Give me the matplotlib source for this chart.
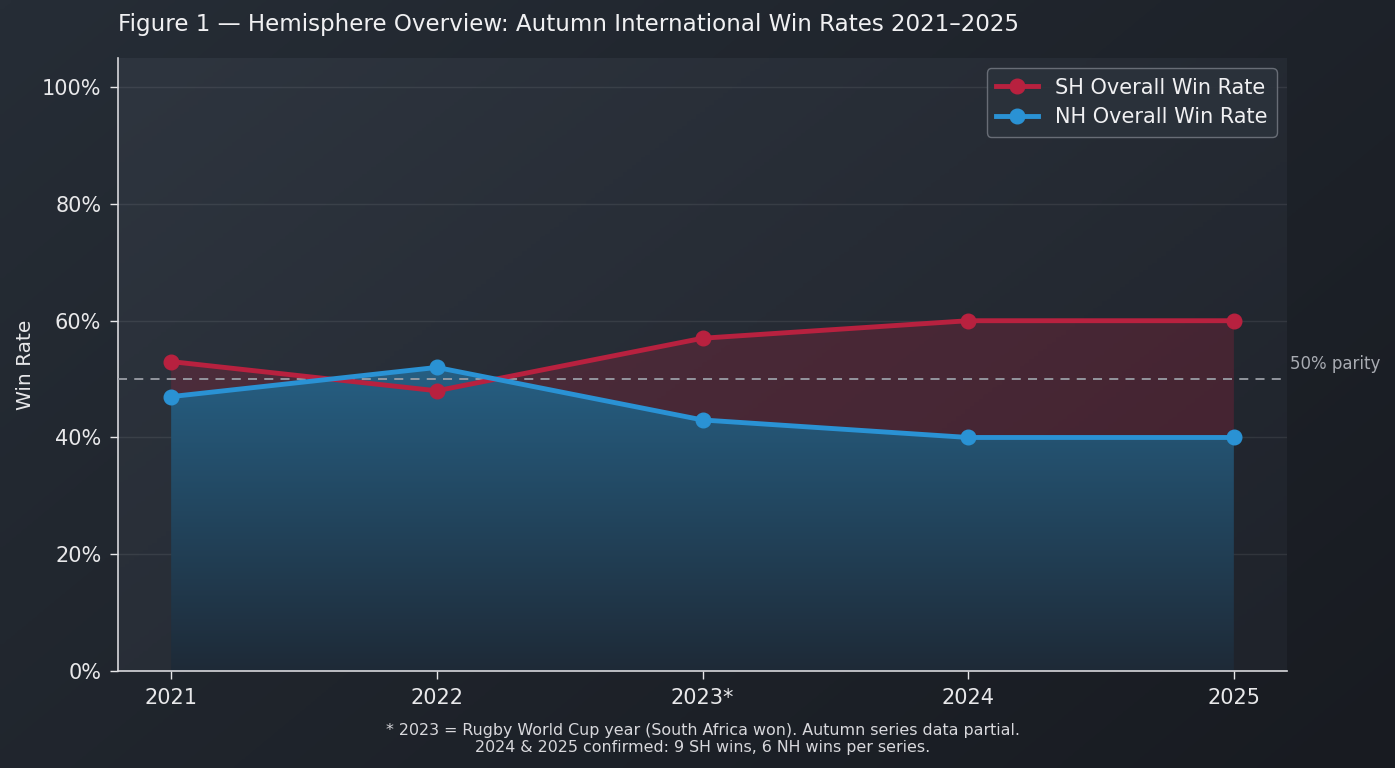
import numpy as np
import matplotlib
matplotlib.use("Agg")
import matplotlib.pyplot as plt
from matplotlib.colors import LinearSegmentedColormap
from matplotlib.patches import PathPatch
from matplotlib.path import Path

years = ["2021", "2022", "2023*", "2024", "2025"]
sh_rate = [53, 48, 57, 60, 60]
nh_rate = [47, 52, 43, 40, 40]
y_ticks = [0, 20, 40, 60, 80, 100]

SH_COL = "#b8213f"
NH_COL = "#2a92d4"

plt.rcParams['font.family'] = ['DejaVu Sans']

fig = plt.figure(figsize=(13.95, 7.68), dpi=100)

# figure background gradient
bg = fig.add_axes([0, 0, 1, 1], zorder=-10)
bg.axis("off")
gx, gy = np.meshgrid(np.linspace(0, 1, 256), np.linspace(0, 1, 256))
t = (gx * 0.6 + gy * 0.4)
bg_cmap = LinearSegmentedColormap.from_list("bg", ["#262d36", "#181b21"])
bg.imshow(t, cmap=bg_cmap, extent=[0, 1, 0, 1], aspect="auto", origin="upper")
bg.set_xlim(0, 1); bg.set_ylim(0, 1)

ax = fig.add_axes([118/1395, 1 - 671/768, (1287-118)/1395, (671-58)/768])
x = np.arange(len(years))
ax.set_xlim(-0.2, 4.2)
ax.set_ylim(0, 105)

# axes background gradient
ax_cmap = LinearSegmentedColormap.from_list("axbg", ["#2e353f", "#1f232b"])
ax.imshow(t, cmap=ax_cmap, extent=[-0.2, 4.2, 0, 105], aspect="auto",
          origin="upper", zorder=0)

ax.grid(axis="y", color="#ffffff", alpha=0.08, linewidth=1, zorder=1)
ax.set_axisbelow(True)

# red fill where SH above NH
ax.fill_between(x, nh_rate, sh_rate, where=np.array(sh_rate) >= np.array(nh_rate),
                interpolate=True, color=SH_COL, alpha=0.24, linewidth=0, zorder=2)

# blue gradient fill under NH
verts = [(x[0], 0)] + list(zip(x, nh_rate)) + [(x[-1], 0), (x[0], 0)]
codes = [Path.MOVETO] + [Path.LINETO] * (len(verts) - 2) + [Path.CLOSEPOLY]
patch = PathPatch(Path(verts, codes), facecolor="none", edgecolor="none")
ax.add_patch(patch)
grad = np.linspace(1, 0, 256).reshape(-1, 1)
blue_cmap = LinearSegmentedColormap.from_list("bl", ["#1e2a37", "#265f83"])
im = ax.imshow(grad, cmap=blue_cmap, extent=[x[0], x[-1], 0, max(nh_rate)],
               aspect="auto", origin="upper", zorder=2.5)
im.set_clip_path(patch)

ax.axhline(50, color="#9a9ea6", linestyle=(0, (5, 4)), linewidth=1.3, zorder=3)
ax.text(4.21, 51, "50% parity", color="#a8abb2", fontsize=12, va="bottom", ha="left",
        clip_on=False)

ax.plot(x, sh_rate, color=SH_COL, linewidth=3.5, marker="o", markersize=10.5,
        label="SH Overall Win Rate", zorder=5)
ax.plot(x, nh_rate, color=NH_COL, linewidth=3.5, marker="o", markersize=10.5,
        label="NH Overall Win Rate", zorder=6)

ax.set_xticks(x)
ax.set_xticklabels(years)
ax.set_yticks(y_ticks)
ax.set_yticklabels([f"{v}%" for v in y_ticks])
ax.tick_params(colors="#e8e8ea", labelsize=15, length=6, width=1, pad=6)
for s in ["top", "right"]:
    ax.spines[s].set_visible(False)
for s in ["left", "bottom"]:
    ax.spines[s].set_color("#d8d8dc")
    ax.spines[s].set_linewidth(1.2)

ax.set_ylabel("Win Rate", color="#e8e8ea", fontsize=14.5, labelpad=5)

leg = ax.legend(loc="upper right", fontsize=15, frameon=True, facecolor="#2b323b",
                edgecolor="#70757e", framealpha=0.9, borderpad=0.45,
                handlelength=2.0, labelspacing=0.45)
for txt in leg.get_texts():
    txt.set_color("#f0f0f2")

fig.text(118/1395, 1 - 24/768, "Figure 1 — Hemisphere Overview: Autumn International Win Rates 2021–2025",
         color="#f0f0f2", fontsize=16.6, ha="left", va="center")

fig.text(703/1395, 1 - 739/768,
         "* 2023 = Rugby World Cup year (South Africa won). Autumn series data partial.\n"
         "2024 & 2025 confirmed: 9 SH wins, 6 NH wins per series.",
         color="#d8d8dc", fontsize=11.4, ha="center", va="center", linespacing=1.1)

fig.savefig("out.png", dpi=100)
